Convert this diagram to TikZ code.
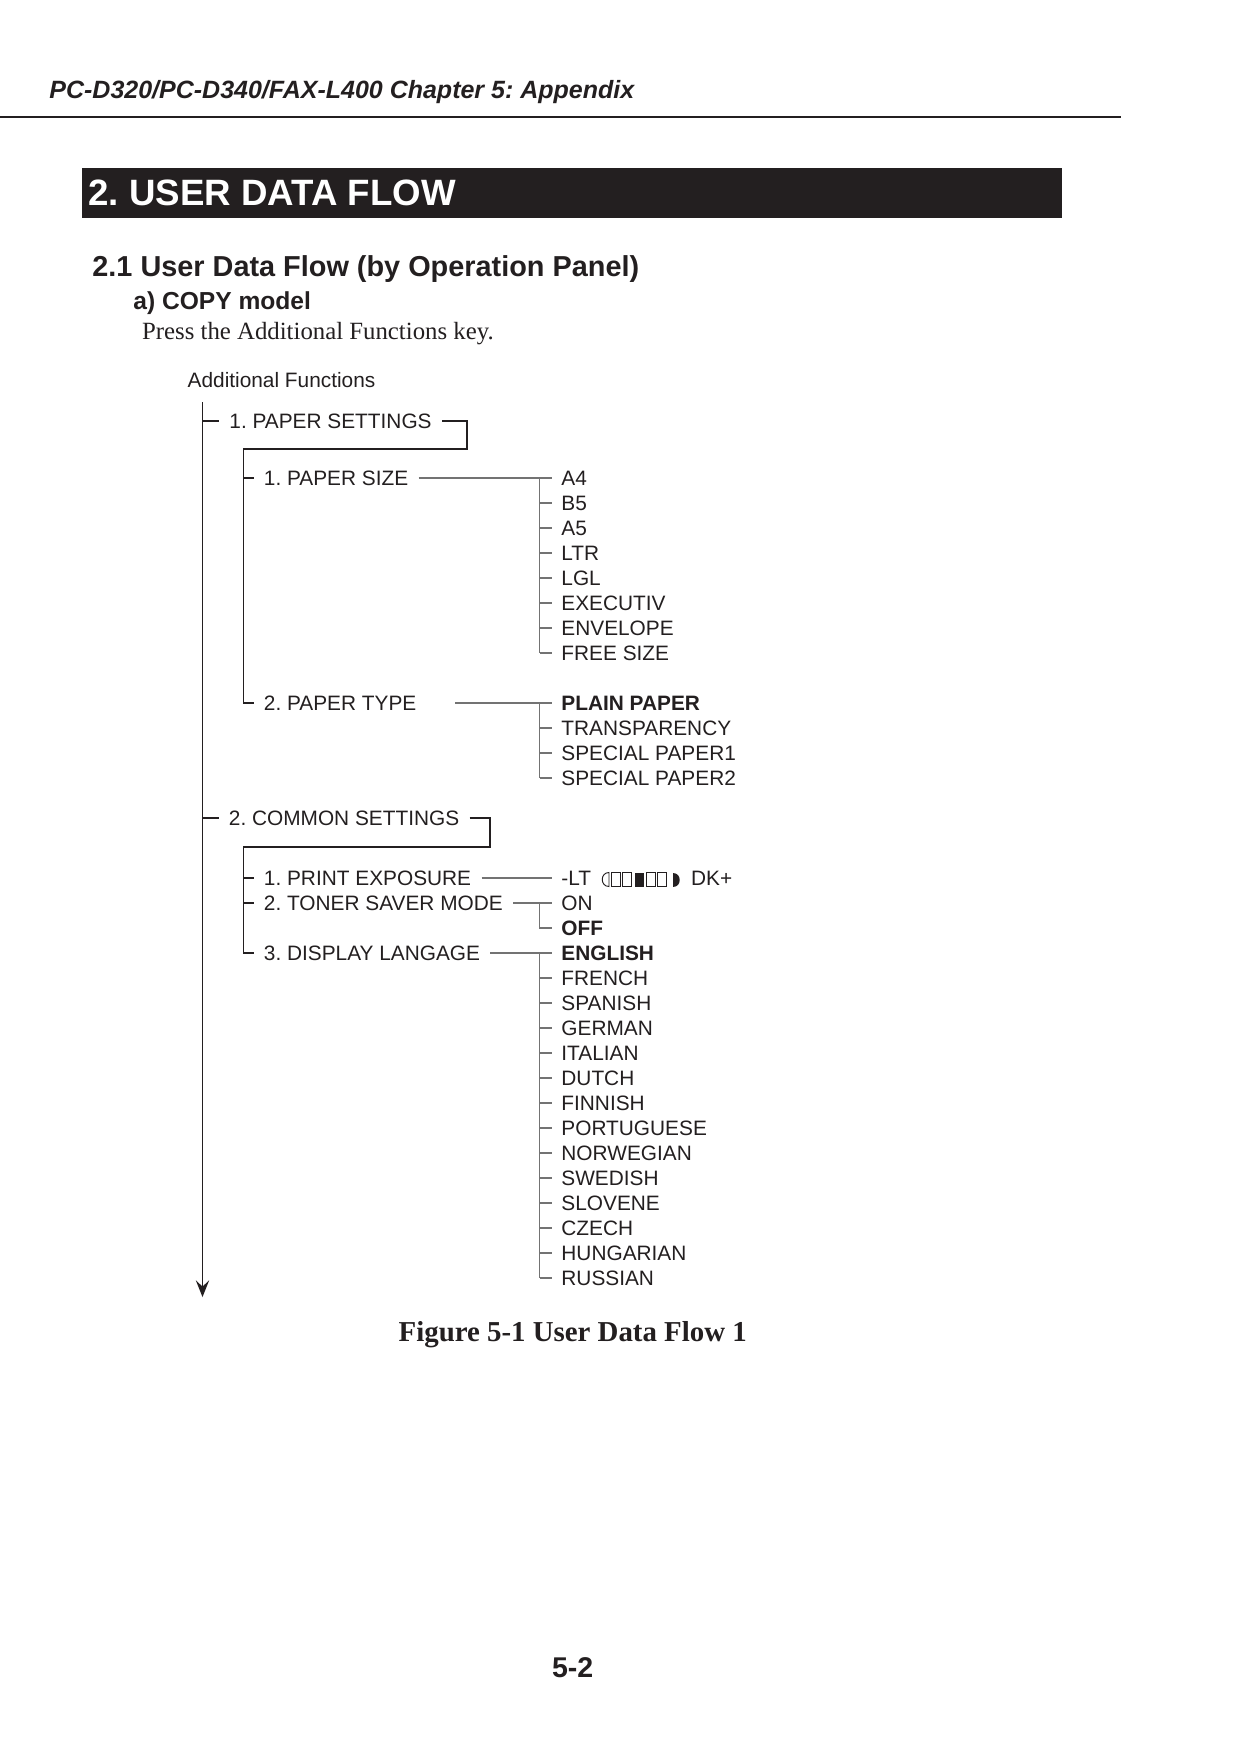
\documentclass[tikz,border=0pt]{standalone}
\usepackage{fontspec}
\setmainfont{Liberation Serif}
\setsansfont{Liberation Sans}
\usetikzlibrary{arrows.meta}
\definecolor{ink}{RGB}{35,31,32}
\frenchspacing
\tikzset{
  tree/.style={draw=ink, line width=0.72pt},
  vline/.style={draw=black!55, line width=0.5pt},
  lbl/.style={anchor=west, inner xsep=4.8pt, inner ysep=0pt, text height=7.16pt, text depth=0pt, text=ink, font=\sffamily\fontsize{10}{11}\selectfont},
  val/.style={lbl, inner xsep=4.32pt},
  head/.style={anchor=base west, inner sep=0pt, text=ink},
  box/.style={draw=ink, line width=0.45pt},
}
\begin{document}
\begin{tikzpicture}[x=0.48pt,y=0.48pt,yscale=-1,xscale=1]
        \useasboundingbox (0,0) rectangle (1240,1754);

        %Text: page header
        \node[head, font=\sffamily\bfseries\itshape\fontsize{12}{14}\selectfont] (hdr) at (49,98.3) {PC-D320/PC-D340/FAX-L400 Chapter 5: Appendix};
        %Straight Lines
        \draw [ink, line width=0.96pt] (0,116.7) -- (1121,116.7) ;
        %Shape: Rectangle
        \fill [ink] (82,168) rectangle (1062,218) ;
        \node[head, text=white, font=\sffamily\bfseries\fontsize{17.6}{20}\selectfont] (ttl) at (88,205.5) {2. USER DATA FLOW};
        \node[head, font=\sffamily\bfseries\fontsize{13.85}{16}\selectfont] (sec) at (92,276) {2.1 User Data Flow (by Operation Panel)};
        \node[head, font=\sffamily\bfseries\fontsize{11.8}{14}\selectfont] (mdl) at (133,309.3) {a) COPY model};
        \node[head, font=\rmfamily\fontsize{11.9}{14}\selectfont] (txt) at (141.7,339.3) {Press the Additional Functions key.};

        %Text: tree
        \node[lbl] (addf) at (177.3,380) {Additional Functions};
        \coordinate (top) at (202.5,402);
        \coordinate (bot) at (202.5,1297);
        %Straight Lines: main arrow
        \draw [tree, -{Stealth[length=8pt,width=6.4pt,inset=3pt]}] (top) -- (bot) ;

        \node[lbl] (ps) at (219,421) {1. PAPER SETTINGS};
        \node[lbl] (cs) at (218.5,818) {2. COMMON SETTINGS};
        \draw [tree] (top |- ps.west) -- (ps.west) ;
        \draw [tree] (top |- cs.west) -- (cs.west) ;

        %1. PAPER SETTINGS
        \node[lbl] (psz) at (253.5,478) {1. PAPER SIZE};
        \node[lbl] (pt) at (253.5,703) {2. PAPER TYPE};
        \coordinate (psc) at (467,449);
        \coordinate (psv) at (243.5,449);
        \draw [tree] (ps.east) -| (psc) -- (psv) |- (pt.west) ;
        \draw [tree] (psv |- psz.west) -- (psz.west) ;

        %2. COMMON SETTINGS
        \node[lbl] (pe) at (253.5,878) {1. PRINT EXPOSURE};
        \node[lbl] (ts) at (253.5,903) {2. TONER SAVER MODE};
        \node[lbl] (dl) at (253.5,953) {3. DISPLAY LANGAGE};
        \coordinate (csc) at (490,847);
        \coordinate (csv) at (243.5,847);
        \draw [tree] (cs.east) -| (csc) -- (csv) |- (dl.west) ;
        \draw [tree] (csv |- pe.west) -- (pe.west) ;
        \draw [tree] (csv |- ts.west) -- (ts.west) ;

        %Values
        \coordinate (vx) at (539.5,0);
        \foreach \t [count=\i from 0] in {A4,B5,A5,LTR,LGL,EXECUTIV,ENVELOPE,FREE SIZE}
            \node[val] (sz\i) at (552,478+25*\i) {\t};
        \draw [vline] (psz.east) -- (sz0.west) ;
        \draw [vline] (vx |- sz0.west) -- (vx |- sz7.west) ;
        \foreach \i in {1,...,7} \draw [vline] (vx |- sz\i.west) -- (sz\i.west) ;

        \foreach \t [count=\i from 0] in {\textbf{PLAIN PAPER},TRANSPARENCY,SPECIAL PAPER1,SPECIAL PAPER2}
            \node[val] (ty\i) at (552,703+25*\i) {\t};
        \draw [vline] (pt.east) ++(28.6,0) -- (ty0.west) ;
        \draw [vline] (vx |- ty0.west) -- (vx |- ty3.west) ;
        \foreach \i in {1,...,3} \draw [vline] (vx |- ty\i.west) -- (ty\i.west) ;

        \node[val] (ex) at (552,878) {-LT};
        \node[lbl, inner xsep=0pt] (dk) at (690.7,878) {DK+};
        \draw [vline] (pe.east) -- (ex.west) ;
        %Shapes: exposure scale
        \draw [box] (609,872.5) .. controls (600,872.5) and (600,886.5) .. (609,886.5) -- cycle ;
        \draw [box] (611,872.5) rectangle (620,886.5) ;
        \draw [box] (622.5,872.5) rectangle (631.5,886.5) ;
        \fill [ink] (634.5,872.5) rectangle (643.5,886.5) ;
        \draw [box] (646,872.5) rectangle (655,886.5) ;
        \draw [box] (657.5,872.5) rectangle (666.5,886.5) ;
        \fill [ink] (672.5,872.5) .. controls (682,872.5) and (682,886.5) .. (672.5,886.5) -- cycle ;

        \foreach \t [count=\i from 0] in {ON,\textbf{OFF}}
            \node[val] (tn\i) at (552,903+25*\i) {\t};
        \draw [vline] (ts.east) -- (tn0.west) ;
        \draw [vline] (vx |- tn0.west) |- (tn1.west) ;

        \foreach \t [count=\i from 0] in {\textbf{ENGLISH},FRENCH,SPANISH,GERMAN,ITALIAN,DUTCH,FINNISH,PORTUGUESE,NORWEGIAN,SWEDISH,SLOVENE,CZECH,HUNGARIAN,RUSSIAN}
            \node[val] (lg\i) at (552,953+25*\i) {\t};
        \draw [vline] (dl.east) -- (lg0.west) ;
        \draw [vline] (vx |- lg0.west) -- (vx |- lg13.west) ;
        \foreach \i in {1,...,13} \draw [vline] (vx |- lg\i.west) -- (lg\i.west) ;

        %Text: caption and page number
        \node[head, font=\rmfamily\bfseries\fontsize{13.85}{16}\selectfont] (cap) at (398.3,1341.7) {Figure 5-1 User Data Flow 1};
        \node[head, font=\sffamily\bfseries\fontsize{13.7}{16}\selectfont] (pg) at (551.7,1677.3) {5-2};
\end{tikzpicture}
\end{document}
